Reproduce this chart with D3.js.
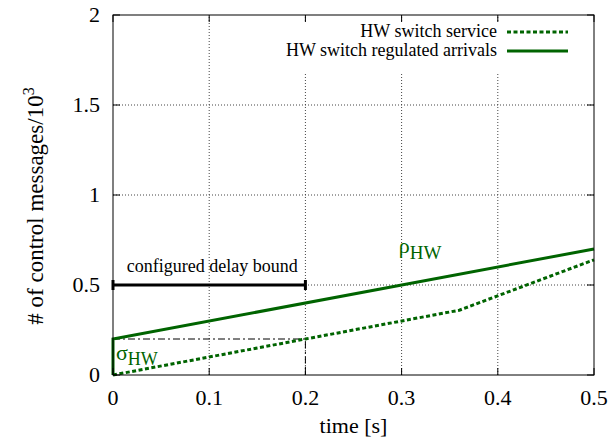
<!DOCTYPE html>
<html>
<head>
<meta charset="utf-8">
<script src="https://cdn.jsdelivr.net/npm/d3@7"></script>
<style>
	body { margin: 0; background: #fff; }
</style>
</head>
<body>
<div id="chart"></div>
<script>
// data
const xTicks = [0, 0.1, 0.2, 0.3, 0.4, 0.5];
const yTicks = [0, 0.5, 1, 1.5, 2];
const serviceTime = [0, 0.2, 0.36, 0.5];
const serviceMsgs = [0, 0.2, 0.36, 0.64];
const arrivalTime = [0, 0, 0.5];
const arrivalMsgs = [0, 0.2, 0.7];
const sigmaHW = 0.2;
const delayBound = 0.2;
const boundLevel = 0.5;
const legendNames = ["HW switch service", "HW switch regulated arrivals"];

const width = 610, height = 441;
const margin = {left: 113, right: 16, top: 15, bottom: 66};
const green = "#006400";

let svg = d3.select("#chart").append("svg")
	.attr("width", width)
	.attr("height", height)
	.attr("font-family", "'Liberation Serif', 'Times New Roman', Times, 'DejaVu Serif', serif");

let x = d3.scaleLinear().domain([0, 0.5]).range([margin.left, width - margin.right]);
let y = d3.scaleLinear().domain([0, 2]).range([height - margin.bottom, margin.top]);

// grid
svg.append("g").selectAll("line")
	.data(xTicks.slice(1, -1))
	.join("line")
	.attr("x1", d => x(d)).attr("x2", d => x(d))
	.attr("y1", y(0)).attr("y2", y(2))
	.attr("stroke", "#444").attr("stroke-width", 1).attr("stroke-dasharray", "1,2");
svg.append("g").selectAll("line")
	.data(yTicks.slice(1, -1))
	.join("line")
	.attr("x1", x(0)).attr("x2", x(0.5))
	.attr("y1", d => y(d)).attr("y2", d => y(d))
	.attr("stroke", "#444").attr("stroke-width", 1).attr("stroke-dasharray", "1,2");

// legend background hides the grid
svg.append("rect")
	.attr("x", 280).attr("y", 22)
	.attr("width", x(0.5) - 281).attr("height", 51)
	.attr("fill", "#fff");

// dash-dot helpers at sigma / delay bound
svg.append("path")
	.attr("d", `M${x(0)},${y(sigmaHW)}H${x(delayBound)}V${y(0)}`)
	.attr("fill", "none").attr("stroke", "#000").attr("stroke-width", 1)
	.attr("stroke-dasharray", "7,3,2,3");

// delay bound arrow
let gb = svg.append("g").attr("stroke", "#000").attr("stroke-width", 3);
gb.append("line")
	.attr("x1", x(0)).attr("x2", x(delayBound))
	.attr("y1", y(boundLevel)).attr("y2", y(boundLevel));
[0, delayBound].forEach(v => {
	gb.append("line")
		.attr("x1", x(v)).attr("x2", x(v))
		.attr("y1", y(boundLevel) - 5).attr("y2", y(boundLevel) + 5);
});
svg.append("text")
	.attr("x", (x(0) + x(delayBound)) / 2 + 3).attr("y", y(boundLevel) - 13)
	.attr("text-anchor", "middle")
	.style("font-size", "18px")
	.text("configured delay bound");

// curves
let line = d3.line().x(d => x(d[0])).y(d => y(d[1]));
svg.append("path")
	.attr("d", line(serviceTime.map((t, i) => [t, serviceMsgs[i]])))
	.attr("fill", "none").attr("stroke", green).attr("stroke-width", 3)
	.attr("stroke-dasharray", "4,2.5");
svg.append("path")
	.attr("d", line(arrivalTime.map((t, i) => [t, arrivalMsgs[i]])))
	.attr("fill", "none").attr("stroke", green).attr("stroke-width", 3);

// annotations
let rho = svg.append("text")
	.attr("x", x(0.297)).attr("y", y(0.678))
	.attr("fill", green).style("font-size", "22px");
rho.append("tspan").text("ρ");
rho.append("tspan").attr("dy", 6).style("font-size", "19px").text("HW");

let sig = svg.append("text")
	.attr("x", x(0) + 3).attr("y", y(0.083))
	.attr("fill", green).style("font-size", "22px");
sig.append("tspan").text("σ");
sig.append("tspan").attr("dy", 5).style("font-size", "18px").text("HW");

// frame
svg.append("rect")
	.attr("x", x(0)).attr("y", y(2))
	.attr("width", x(0.5) - x(0)).attr("height", y(0) - y(2))
	.attr("fill", "none").attr("stroke", "#000").attr("stroke-width", 1);

// inward ticks on all sides
let tk = svg.append("g").attr("stroke", "#000").attr("stroke-width", 1);
xTicks.forEach(d => {
	tk.append("line").attr("x1", x(d)).attr("x2", x(d)).attr("y1", y(0)).attr("y2", y(0) - 7);
	tk.append("line").attr("x1", x(d)).attr("x2", x(d)).attr("y1", y(2)).attr("y2", y(2) + 7);
});
yTicks.forEach(d => {
	tk.append("line").attr("x1", x(0)).attr("x2", x(0) + 7).attr("y1", y(d)).attr("y2", y(d));
	tk.append("line").attr("x1", x(0.5)).attr("x2", x(0.5) - 7).attr("y1", y(d)).attr("y2", y(d));
});

// tick labels
svg.append("g").selectAll("text")
	.data(xTicks)
	.join("text")
	.attr("x", d => x(d)).attr("y", y(0) + 30)
	.attr("text-anchor", "middle")
	.style("font-size", "22px")
	.text(d => d);
svg.append("g").selectAll("text")
	.data(yTicks)
	.join("text")
	.attr("x", x(0) - 13).attr("y", d => y(d) + 7)
	.attr("text-anchor", "end")
	.style("font-size", "22px")
	.text(d => d);

// axis titles
svg.append("text")
	.attr("x", (x(0) + x(0.5)) / 2).attr("y", 433)
	.attr("text-anchor", "middle")
	.style("font-size", "22px")
	.text("time [s]");
let yt = svg.append("text")
	.attr("transform", `translate(43,206) rotate(-90)`)
	.attr("text-anchor", "middle")
	.style("font-size", "23px");
yt.append("tspan").text("# of control messages/10");
yt.append("tspan").attr("dy", -9).style("font-size", "16px").text("3");

// legend
let lg = svg.append("g");
legendNames.forEach((name, i) => {
	let ly = 32 + i * 19;
	lg.append("text")
		.attr("x", 497).attr("y", ly + 5)
		.attr("text-anchor", "end")
		.style("font-size", "18px")
		.text(name);
	lg.append("line")
		.attr("x1", 507).attr("x2", 568)
		.attr("y1", ly).attr("y2", ly)
		.attr("stroke", green).attr("stroke-width", 3)
		.attr("stroke-dasharray", i == 0 ? "4,2.5" : null);
});
</script>
</body>
</html>
